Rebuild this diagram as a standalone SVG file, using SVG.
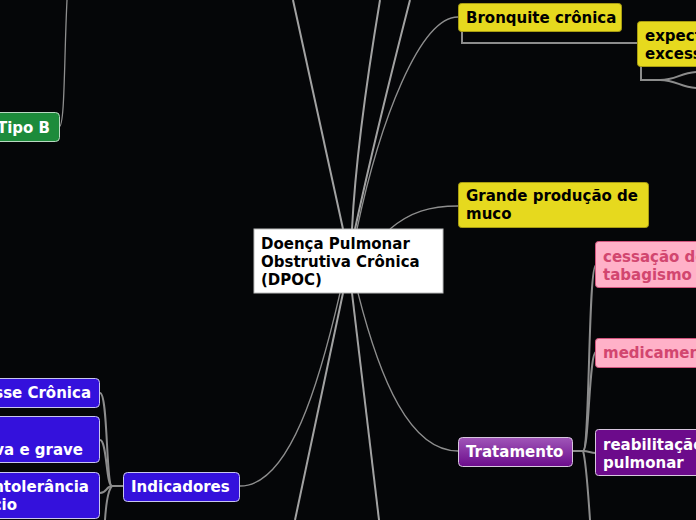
<svg xmlns="http://www.w3.org/2000/svg" width="696" height="520" viewBox="0 0 696 520">
<defs>
<linearGradient id="gPurple" x1="0" y1="0" x2="0" y2="1">
<stop offset="0" stop-color="#a056b8"/>
<stop offset="1" stop-color="#6c0c8c"/>
</linearGradient>
<style>
text{font-family:"DejaVu Sans","Verdana",sans-serif;font-weight:bold;font-size:15px}
.c1{fill:none;stroke:#a2a2a2;stroke-width:2}
.c2{fill:none;stroke:#8e8e8e;stroke-width:1.3}
.c3{fill:none;stroke:#8c8c8c;stroke-width:2}
.yel{fill:#e6d91e;stroke:#a99d12;stroke-width:1}
.blu{fill:#3411dc;stroke:#c9c6ee;stroke-width:1}
.pnk{fill:#ffb1c8;stroke:#d4557f;stroke-width:1}
.pur{fill:#6c0b8b;stroke:#d7c6de;stroke-width:1}
.grn{fill:#1d8b3b;stroke:#b9d9c1;stroke-width:1}
.tb{fill:#000}
.tw{fill:#fff}
.tp{fill:#d2466f}
</style>
</defs>
<rect width="696" height="520" fill="#050608"/>
<g id="connectors">
<path class="c1" d="M343,229 L293,0"/>
<path class="c1" d="M352,229 C356,150 370,60 380,0"/>
<path class="c1" d="M355,229 C370,160 392,70 410,0"/>
<path class="c2" d="M357,229 C380,120 420,17 458,17"/>
<path class="c2" d="M390,229 C410,212 430,206 458,206"/>
<path class="c2" d="M340,293 C320,380 290,486 240,486"/>
<path class="c1" d="M343,293 L295,520"/>
<path class="c1" d="M352,293 L379,520"/>
<path class="c2" d="M358,293 C380,380 410,451 458,451"/>
<path class="c3" d="M462,31 V43 H637"/>
<path class="c3" d="M641,66 V80 H660 C676,80 680,73 696,72"/>
<path class="c3" d="M660,80 C676,80 680,87 696,88"/>
<path class="c3" d="M572,451 H583"/>
<path class="c3" d="M583,451 C590,451 588,265 596,265"/>
<path class="c3" d="M583,451 C589,451 589,352 596,352"/>
<path class="c3" d="M583,451 C589,451 590,453 596,453"/>
<path class="c3" d="M583,451 C586,460 588,490 590,520"/>
<path class="c3" d="M123,486 H112"/>
<path class="c3" d="M112,486 C106,486 108,393 100,393"/>
<path class="c3" d="M112,486 C106,486 107,440 100,440"/>
<path class="c3" d="M112,486 C106,486 107,493 100,493"/>
<path class="c3" d="M112,486 C108,490 106,505 105,520"/>
<path class="c2" d="M59,127 C65,127 64,60 67,0"/>
</g>
<g id="center">
<rect x="254" y="229" width="189" height="64" fill="#fff" stroke="#bbb" stroke-width="1"/>
<text class="tb" x="261" y="249">Doença Pulmonar</text>
<text class="tb" x="261" y="267">Obstrutiva Crônica</text>
<text class="tb" x="261" y="285">(DPOC)</text>
</g>
<g id="bronquite">
<rect class="yel" x="458.5" y="3.5" width="163" height="28" rx="3"/>
<text class="tb" x="466" y="23">Bronquite crônica</text>
</g>
<g id="expectoracao">
<rect class="yel" x="637.5" y="21.5" width="160" height="45" rx="3"/>
<text class="tb" x="645" y="41">expectoração</text>
<text class="tb" x="645" y="59">excessiva</text>
</g>
<g id="muco">
<rect class="yel" x="458.5" y="182.5" width="190" height="45" rx="3"/>
<text class="tb" x="466" y="201">Grande produção de</text>
<text class="tb" x="466" y="219">muco</text>
</g>
<g id="tratamento">
<rect x="458.5" y="437.5" width="114" height="29" rx="4" fill="url(#gPurple)" stroke="#d7c6de" stroke-width="1"/>
<text class="tw" x="466" y="457">Tratamento</text>
</g>
<g id="cessacao">
<rect class="pnk" x="595.5" y="241.5" width="160" height="46" rx="3"/>
<text class="tp" x="603" y="262">cessação do</text>
<text class="tp" x="603" y="280">tabagismo</text>
</g>
<g id="medicamentos">
<rect class="pnk" x="595.5" y="338.5" width="160" height="29" rx="3"/>
<text class="tp" x="603" y="358">medicamentos</text>
</g>
<g id="reabilitacao">
<rect class="pur" x="595.5" y="429.5" width="160" height="46" rx="3"/>
<text class="tw" x="603" y="450">reabilitação</text>
<text class="tw" x="603" y="468">pulmonar</text>
</g>
<g id="indicadores">
<rect class="blu" x="123.5" y="472.5" width="116" height="29" rx="4"/>
<text class="tw" x="131" y="492">Indicadores</text>
</g>
<g id="tosse">
<rect class="blu" x="-60.5" y="378.5" width="160" height="29" rx="4"/>
<text class="tw" x="91" y="398" text-anchor="end">Tosse Crônica</text>
</g>
<g id="dispneia">
<rect class="blu" x="-92.5" y="416.5" width="192" height="46" rx="4"/>
<text class="tw" x="-85" y="437">Dispneia</text>
<text class="tw" x="83" y="455" text-anchor="end">progressiva e grave</text>
</g>
<g id="intolerancia">
<rect class="blu" x="-92.5" y="472.5" width="192" height="46" rx="4"/>
<text class="tw" x="89" y="492" text-anchor="end">intolerância</text>
<text class="tw" x="17" y="510" text-anchor="end">ao exercício</text>
</g>
<g id="tipoB">
<rect class="grn" x="-10.5" y="112.5" width="70" height="29" rx="4"/>
<text class="tw" x="50" y="133" text-anchor="end">Tipo B</text>
</g>
</svg>
